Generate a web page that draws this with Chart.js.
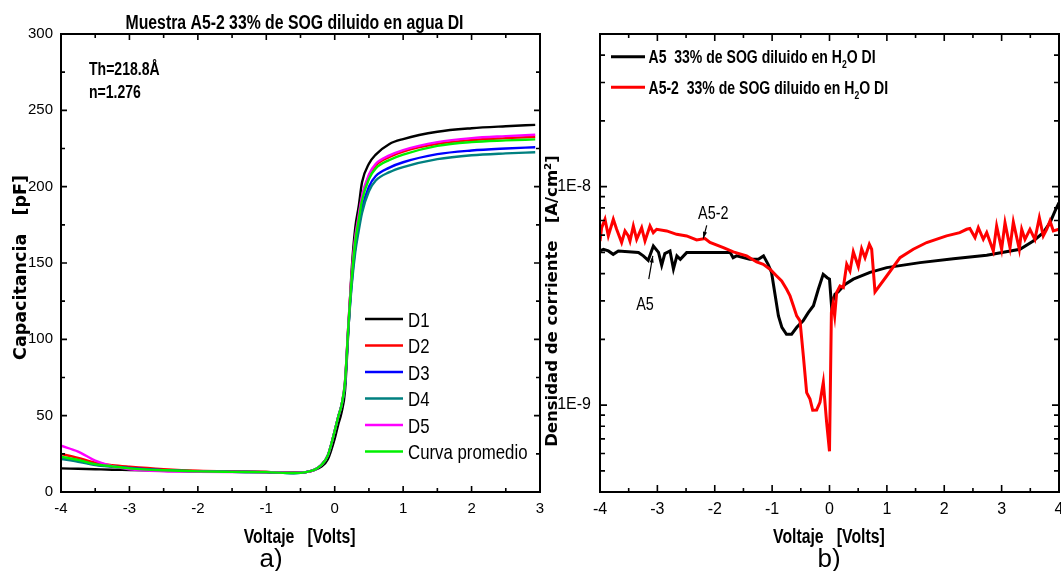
<!DOCTYPE html>
<html lang="es">
<head>
<meta charset="utf-8">
<title>Muestra A5-2: C-V e I-V</title>
<script src="https://cdn.jsdelivr.net/npm/chart.js@4.4.1/dist/chart.umd.min.js"></script>
<style>
  body { margin: 0; background: #fff; }
  .panel { position: absolute; top: 0; }
  #cv { left: 0; }
  #iv { left: 530px; }
</style>
</head>
<body>
<canvas id="cv" class="panel" width="545" height="571"></canvas>
<canvas id="iv" class="panel" width="531" height="571"></canvas>
<script>
// ---- a) capacitancia vs voltaje (pF) ----
const voltaje = [-4, -3.75, -3.5, -3.25, -3, -2.5, -2, -1.5, -1, -0.6, -0.4, -0.3,
  -0.2, -0.1, 0, 0.05, 0.1, 0.15, 0.2, 0.25, 0.3, 0.35, 0.4, 0.5, 0.6, 0.8, 1.0, 1.5, 2.0, 2.5, 2.93];
const capD1 = [15.5, 15.2, 14.9, 14.6, 14.4, 13.9, 13.5, 13.3, 13.1, 12.6, 13.2, 14.4,
  16.5, 21.5, 35, 44, 52, 66, 106, 147, 173, 187, 203, 215, 221, 228, 231.2, 236, 238.3, 239.6, 240.5];
const capD2 = [24.9, 22.3, 19.2, 17.6, 16.6, 15.0, 13.9, 13.4, 13.1, 12.6, 13.2, 14.5,
  17.5, 24, 40, 49, 57, 72, 110, 143, 166, 180, 193, 207, 214, 219.5, 223, 228, 230.5, 231.8, 232.7];
const capD3 = [22.5, 20.4, 18.0, 16.7, 15.7, 14.3, 13.5, 13.2, 13.0, 12.4, 13.2, 14.5,
  17.5, 24, 40, 49, 57, 71, 108, 138, 160, 174, 186, 200, 207, 212.5, 216, 221.3, 223.7, 225, 225.8];
const capD4 = [21.6, 19.8, 17.7, 16.5, 15.5, 14.2, 13.5, 13.2, 13.0, 12.3, 13.2, 14.5,
  17.5, 24, 40, 49, 57, 70, 107, 136, 157, 171, 183, 197, 204, 209.5, 212.8, 218, 220.6, 221.8, 222.5];
const capD5 = [30.3, 26.5, 20.5, 16.9, 14.9, 13.6, 13.3, 13.1, 13.0, 12.5, 13.2, 14.5,
  17.5, 24, 40, 49, 57, 72, 110, 144, 167, 181, 194, 208, 215, 220.5, 224, 229.2, 231.8, 233.1, 234];
const capProm = [23.1, 21.0, 18.3, 16.8, 15.5, 14.2, 13.5, 13.2, 13.0, 12.4, 13.2, 14.5,
  17.5, 24, 40, 49, 57, 72, 109, 141, 164, 178, 191, 205, 212, 217.5, 221, 226.7, 229.2, 230.3, 231];
const capLabels = ['D1', 'D2', 'D3', 'D4', 'D5', 'Curva promedio'];
const capColors = ['#000000', '#ff0000', '#0000ff', '#008080', '#ff00ff', '#00f000'];
const cvVoltTicks = [-4, -3, -2, -1, 0, 1, 2, 3];
const capTicks = [0, 50, 100, 150, 200, 250, 300];

// ---- b) densidad de corriente vs voltaje, valores en nA/cm2 ----
const voltA5 = [-4.0, -3.94, -3.855, -3.77, -3.68, -3.33, -3.245, -3.16, -3.07, -2.98, -2.925, -2.87,
  -2.78, -2.72, -2.66, -2.6, -2.49, -1.73, -1.68, -1.62, -1.39, -1.24, -1.15, -1.07, -1.01, -0.95,
  -0.89, -0.83, -0.75, -0.66, -0.57, -0.46, -0.37, -0.28, -0.195, -0.11, -0.04, 0.0, 0.035, 0.096,
  0.15, 0.27, 0.415, 0.706, 0.997, 1.577, 2.158, 2.74, 3.32, 3.552, 3.726, 3.843, 3.93, 4.0];
const jA5 = [5.08, 5.17, 5.08, 4.90, 5.08, 5.0, 4.82, 4.6, 5.35, 5.0, 4.37, 4.94,
  5.08, 4.2, 4.82, 4.65, 4.99, 4.99, 4.73, 4.82, 4.65, 4.65, 4.82, 4.41, 4.05, 3.22,
  2.56, 2.27, 2.11, 2.11, 2.27, 2.43, 2.65, 2.85, 3.39, 3.97, 3.83, 3.77, 2.85, 3.22,
  3.3, 3.57, 3.77, 4.05, 4.26, 4.49, 4.68, 4.85, 5.17, 5.64, 6.16, 6.84, 7.73, 8.45];
const voltA52 = [-4.0, -3.971, -3.913, -3.855, -3.768, -3.71, -3.623, -3.564, -3.506, -3.477,
  -3.419, -3.361, -3.274, -3.216, -3.129, -3.071, -3.012, -2.838, -2.664, -2.49,
  -2.315, -2.17, -2.083, -1.85, -1.676, -1.59, -1.444, -1.27, -1.154, -1.037,
  -0.921, -0.834, -0.747, -0.688, -0.63, -0.572, -0.514, -0.456, -0.398, -0.34,
  -0.293, -0.224, -0.166, -0.108, -0.05, 0.0, 0.033, 0.06, 0.09, 0.125,
  0.183, 0.241, 0.3, 0.357, 0.415, 0.502, 0.56, 0.619, 0.694, 0.735,
  0.793, 0.997, 1.229, 1.46, 1.694, 2.04, 2.27, 2.39, 2.446, 2.536,
  2.594, 2.681, 2.74, 2.855, 2.913, 3.0, 3.059, 3.146, 3.204, 3.308,
  3.35, 3.407, 3.494, 3.58, 3.657, 3.726, 3.785, 3.843, 3.901, 4.0];
const jA52 = [5.64, 6.49, 7.09, 5.95, 7.09, 6.38, 5.55, 6.27, 5.95, 5.64,
  6.61, 5.74, 6.49, 5.64, 6.61, 6.16, 6.38, 6.27, 6.05, 5.95,
  5.70, 5.79, 5.55, 5.26, 5.03, 4.95, 4.82, 4.52, 4.41, 4.19,
  3.90, 3.70, 3.39, 3.16, 2.85, 2.56, 2.43, 1.68, 1.14, 1.065,
  0.948, 0.95, 1.03, 1.27, 0.833, 0.614, 2.65, 2.9, 2.56, 3.28,
  3.51, 3.45, 4.41, 4.11, 5.03, 4.31, 5.20, 4.73, 5.45, 5.17,
  3.30, 3.90, 4.73, 5.17, 5.55, 5.95, 6.16, 6.38, 6.43, 5.85,
  6.49, 5.74, 6.16, 5.08, 6.61, 5.17, 6.84, 5.26, 6.89, 5.17,
  6.38, 5.74, 6.38, 5.74, 7.21, 5.95, 6.38, 6.97, 6.27, 6.38];
const ivLabels = ['A5  33% de SOG diluido en H', 'A5-2  33% de SOG diluido en H'];
const ivColors = ['#000000', '#ff0000'];
const ivVoltTicks = [-4, -3, -2, -1, 0, 1, 2, 3, 4];
const jTicks = [1e-9, 1e-8];
const jTickLabels = ['1E-9', '1E-8'];

const SANS = '"Liberation Sans", Arial, sans-serif';
const NARROW = '"Liberation Sans Narrow", "Liberation Sans", Arial, sans-serif';
const WIDE = '"DejaVu Sans", Verdana, sans-serif';
Chart.defaults.font.family = SANS;
Chart.defaults.color = '#000';

const toNA = v => v * 1e-9;

function drawText(ctx, str, x, y, o = {}) {
  ctx.save();
  ctx.translate(x, y);
  if (o.rotate) ctx.rotate(o.rotate);
  ctx.scale(o.squeeze || 1, 1);
  ctx.font = o.font;
  ctx.fillStyle = '#000';
  ctx.textAlign = o.align || 'left';
  ctx.textBaseline = 'alphabetic';
  ctx.fillText(str, 0, 0);
  ctx.restore();
}

function arrow(ctx, x1, y1, x2, y2) {
  const ang = Math.atan2(y2 - y1, x2 - x1);
  ctx.save();
  ctx.strokeStyle = '#000';
  ctx.fillStyle = '#000';
  ctx.lineWidth = 1.2;
  ctx.beginPath();
  ctx.moveTo(x1, y1);
  ctx.lineTo(x2, y2);
  ctx.stroke();
  ctx.beginPath();
  ctx.moveTo(x2, y2);
  ctx.lineTo(x2 - 7 * Math.cos(ang - 0.3), y2 - 7 * Math.sin(ang - 0.3));
  ctx.lineTo(x2 - 7 * Math.cos(ang + 0.3), y2 - 7 * Math.sin(ang + 0.3));
  ctx.closePath();
  ctx.fill();
  ctx.restore();
}

// minor/major tick lists for the inward tick marks
function linMarks(min, max, major, minor, big, small) {
  const out = [];
  for (let v = min; v <= max + 1e-9; v += minor) {
    const r = v / major;
    out.push([v, Math.abs(r - Math.round(r)) < 1e-6 ? big : small]);
  }
  return out;
}
function logMarks(min, max, big, small) {
  const out = [];
  for (let e = Math.floor(Math.log10(min)); e <= Math.ceil(Math.log10(max)); e++) {
    for (let m = 1; m <= 9; m++) {
      const v = m * Math.pow(10, e);
      if (v >= min * 0.999 && v <= max * 1.001) out.push([v, m === 1 ? big : small]);
    }
  }
  return out;
}

// box around the plot and ticks pointing inwards on all four sides
const frame = {
  id: 'frame',
  afterDatasetsDraw(chart, _args, o) {
    const { ctx, chartArea: a } = chart;
    const sx = chart.scales.x, sy = chart.scales.y;
    ctx.save();
    ctx.strokeStyle = '#000';
    ctx.lineWidth = 1.6;
    ctx.beginPath();
    for (const [v, len] of o.xMarks) {
      const p = sx.getPixelForValue(v);
      ctx.moveTo(p, a.bottom); ctx.lineTo(p, a.bottom - len);
      ctx.moveTo(p, a.top); ctx.lineTo(p, a.top + len);
    }
    for (const [v, len] of o.yMarks) {
      const p = sy.getPixelForValue(v);
      ctx.moveTo(a.left, p); ctx.lineTo(a.left + len, p);
      ctx.moveTo(a.right, p); ctx.lineTo(a.right - len, p);
    }
    ctx.stroke();
    ctx.lineWidth = 2;
    ctx.strokeRect(a.left, a.top, a.right - a.left, a.bottom - a.top);
    ctx.restore();
  }
};

function fixedAxes(yWidth, xHeight) {
  return {
    x: { afterFit(s) { s.height = xHeight; s.paddingLeft = 0; s.paddingRight = 0; } },
    y: { afterFit(s) { s.width = yWidth; s.paddingTop = 0; s.paddingBottom = 0; } }
  };
}

// ---------- a) C-V ----------
const cvSeries = [capD1, capD2, capD3, capD4, capD5, capProm];
const cvFit = fixedAxes(61, 79);

const cvNotes = {
  id: 'cvNotes',
  afterDraw(chart) {
    const ctx = chart.ctx;
    drawText(ctx, 'Muestra A5-2 33% de SOG diluido en agua DI', 294.5, 29,
      { font: 'bold 20px ' + SANS, squeeze: 0.79, align: 'center' });
    drawText(ctx, 'Th=218.8Å', 89, 75, { font: 'bold 18px ' + SANS, squeeze: 0.78 });
    drawText(ctx, 'n=1.276', 89, 98, { font: 'bold 18px ' + SANS, squeeze: 0.78 });
    drawText(ctx, 'Capacitancia   [pF]', 26, 267.5,
      { font: 'bold 17.5px ' + WIDE, rotate: -Math.PI / 2, align: 'center' });
    drawText(ctx, 'Voltaje   [Volts]', 299.6, 543, { font: 'bold 20px ' + SANS, squeeze: 0.79, align: 'center' });
    drawText(ctx, 'a)', 271, 567, { font: '26px ' + SANS, align: 'center' });

    // legend inside the plot
    chart.data.datasets.forEach((ds, i) => {
      const y = 319 + i * 26.5;
      ctx.save();
      ctx.strokeStyle = ds.borderColor;
      ctx.lineWidth = 2.5;
      ctx.beginPath();
      ctx.moveTo(365, y);
      ctx.lineTo(403, y);
      ctx.stroke();
      ctx.restore();
      drawText(ctx, ds.label, 408, y + 7.5, { font: '21px ' + SANS, squeeze: 0.8 });
    });
  }
};

new Chart(document.getElementById('cv'), {
  type: 'line',
  data: {
    datasets: cvSeries.map((vals, i) => ({
      label: capLabels[i],
      data: voltaje.map((v, k) => ({ x: v, y: vals[k] })),
      borderColor: capColors[i],
      borderWidth: 2.4,
      pointRadius: 0,
      cubicInterpolationMode: 'monotone',
      order: cvSeries.length - i
    }))
  },
  options: {
    responsive: false,
    animation: false,
    devicePixelRatio: 1,
    events: [],
    layout: { padding: { left: 0, right: 5, top: 34, bottom: 0 } },
    plugins: {
      legend: { display: false },
      tooltip: { enabled: false },
      frame: {
        xMarks: linMarks(-4, 3, 1, 0.5, 6, 4),
        yMarks: linMarks(0, 300, 50, 25, 6, 4)
      }
    },
    scales: {
      x: {
        type: 'linear', min: -4, max: 3,
        grid: { display: false, drawTicks: false },
        border: { display: false },
        afterBuildTicks(s) { s.ticks = cvVoltTicks.map(v => ({ value: v })); },
        afterFit: cvFit.x.afterFit,
        ticks: { autoSkip: false, maxRotation: 0, padding: 8, font: { size: 15, family: NARROW } }
      },
      y: {
        type: 'linear', min: 0, max: 300,
        grid: { display: false, drawTicks: false },
        border: { display: false },
        afterBuildTicks(s) { s.ticks = capTicks.map(v => ({ value: v })); },
        afterFit: cvFit.y.afterFit,
        ticks: { padding: 8, font: { size: 15 } }
      }
    }
  },
  plugins: [frame, cvNotes]
});

// ---------- b) J-V ----------
const ivFit = fixedAxes(70, 79);
const J_MIN = 4e-10, J_MAX = 5e-8;

const ivNotes = {
  id: 'ivNotes',
  afterDraw(chart) {
    const ctx = chart.ctx;
    const sx = chart.scales.x, sy = chart.scales.y;

    // legend with H2O subscript
    chart.data.datasets.forEach((ds, i) => {
      const y = 56.7 + i * 30.6;
      ctx.save();
      ctx.strokeStyle = ds.borderColor;
      ctx.lineWidth = 3;
      ctx.beginPath();
      ctx.moveTo(81, y);
      ctx.lineTo(115, y);
      ctx.stroke();
      ctx.translate(118.5, y + 6.5);
      ctx.scale(0.78, 1);
      ctx.fillStyle = '#000';
      ctx.font = 'bold 18px ' + SANS;
      ctx.fillText(ds.label, 0, 0);
      let cx = ctx.measureText(ds.label).width;
      ctx.font = 'bold 11px ' + SANS;
      ctx.fillText('2', cx, 5);
      cx += ctx.measureText('2').width;
      ctx.font = 'bold 18px ' + SANS;
      ctx.fillText('O DI', cx, 0);
      ctx.restore();
    });

    drawText(ctx, 'Densidad de corriente   [A/cm²]', 27, 301,
      { font: 'bold 16.5px ' + WIDE, rotate: -Math.PI / 2, align: 'center' });
    drawText(ctx, 'Voltaje   [Volts]', 298.9, 543, { font: 'bold 20px ' + SANS, squeeze: 0.79, align: 'center' });
    drawText(ctx, 'b)', 299, 567, { font: '26px ' + SANS, align: 'center' });

    // curve labels with arrows, placed in data units
    const px = v => sx.getPixelForValue(v), py = j => sy.getPixelForValue(j);
    drawText(ctx, 'A5-2', px(-2.29), py(7.1e-9), { font: '18px ' + SANS, squeeze: 0.8 });
    arrow(ctx, px(-2.14), py(6.65e-9), px(-2.2), py(5.79e-9));
    drawText(ctx, 'A5', px(-3.37), py(2.73e-9), { font: '18px ' + SANS, squeeze: 0.8 });
    arrow(ctx, px(-3.15), py(3.77e-9), px(-3.08), py(4.82e-9));
  }
};

new Chart(document.getElementById('iv'), {
  type: 'line',
  data: {
    datasets: [
      {
        label: ivLabels[0],
        data: voltA5.map((v, k) => ({ x: v, y: toNA(jA5[k]) })),
        borderColor: ivColors[0], borderWidth: 3, pointRadius: 0, tension: 0, order: 2
      },
      {
        label: ivLabels[1],
        data: voltA52.map((v, k) => ({ x: v, y: toNA(jA52[k]) })),
        borderColor: ivColors[1], borderWidth: 3, pointRadius: 0, tension: 0, order: 1
      }
    ]
  },
  options: {
    responsive: false,
    animation: false,
    devicePixelRatio: 1,
    events: [],
    layout: { padding: { left: 0, right: 2, top: 34, bottom: 0 } },
    plugins: {
      legend: { display: false },
      tooltip: { enabled: false },
      frame: {
        xMarks: linMarks(-4, 4, 1, 0.5, 7, 4),
        yMarks: logMarks(J_MIN, J_MAX, 7, 5)
      }
    },
    scales: {
      x: {
        type: 'linear', min: -4, max: 4,
        grid: { display: false, drawTicks: false },
        border: { display: false },
        afterBuildTicks(s) { s.ticks = ivVoltTicks.map(v => ({ value: v })); },
        afterFit: ivFit.x.afterFit,
        ticks: { autoSkip: false, maxRotation: 0, padding: 8, font: { size: 16, family: NARROW } }
      },
      y: {
        type: 'logarithmic', min: J_MIN, max: J_MAX,
        grid: { display: false, drawTicks: false },
        border: { display: false },
        afterBuildTicks(s) { s.ticks = jTicks.map(v => ({ value: v })); },
        afterFit: ivFit.y.afterFit,
        ticks: {
          padding: 9,
          font: { size: 16, family: NARROW },
          callback: v => jTickLabels[jTicks.indexOf(v)]
        }
      }
    }
  },
  plugins: [frame, ivNotes]
});
</script>
</body>
</html>
